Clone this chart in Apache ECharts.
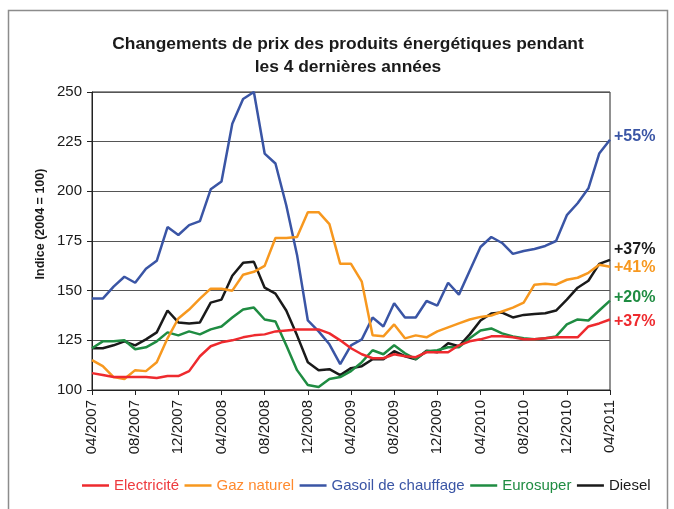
<!DOCTYPE html>
<html>
<head>
<meta charset="utf-8">
<script src="https://cdn.jsdelivr.net/npm/echarts@6/dist/echarts.min.js"></script>
<style>html,body{margin:0;padding:0;background:#fff}#c{width:674px;height:509px}</style>
</head>
<body>
<div id="c"></div>
<script>
const months = ["04/2007","05/2007","06/2007","07/2007","08/2007","09/2007","10/2007","11/2007","12/2007",
"01/2008","02/2008","03/2008","04/2008","05/2008","06/2008","07/2008","08/2008","09/2008","10/2008","11/2008","12/2008",
"01/2009","02/2009","03/2009","04/2009","05/2009","06/2009","07/2009","08/2009","09/2009","10/2009","11/2009","12/2009",
"01/2010","02/2010","03/2010","04/2010","05/2010","06/2010","07/2010","08/2010","09/2010","10/2010","11/2010","12/2010",
"01/2011","02/2011","03/2011","04/2011"];

const electricite = [108.5,107.5,106.5,106.5,106.5,106.5,106,107,107,109.5,117,122,124,125,126.5,127.5,128,129.5,130,130.5,130.5,130.5,128.5,125,121,118,116,116,118,117,116.5,119,119,119,122.5,124.5,125.5,127,127,126.5,125.5,125.5,126,126.5,126.5,126.5,132,133.5,135.5];
const gazNaturel = [115,112,106.5,105.5,110,109.5,114,126,136,140.5,146,151,151,150,158,159.5,162.5,176.5,176.5,177,189.5,189.5,183.5,163.5,163.5,154.5,127.5,127,133,126,127.5,126.5,129.5,131.5,133.5,135.5,136.8,137.5,139.5,141.5,144,153,153.5,153,155.5,156.5,159,163,162];
const gasoil = [146,146,152,157,154,161,165,182,178,183,185,201,205,234,246.5,250,219,214,193,168,135,129.5,123,113,122.5,125.5,136.5,132,143.7,136.5,136.5,144.8,142.5,154,148,160,172,177,174,168.5,170,171,172.5,175,188,194,201.5,219,226];
const eurosuper = [121,124.5,124.5,125,120.5,121.5,124.5,129,127.5,129.5,128,130.5,132,136.5,140.5,141.5,135.5,134.5,122.5,110,102.5,101.5,105.5,106.5,109.5,114,120,118,122.5,118.5,115.5,119.5,120,121.5,121.5,126,130,131,128.5,127,126,125.5,126,127,133,135.5,135,140,145];
const diesel = [121,121,122.5,124.5,122.5,125.5,129,140,134,133.5,134,144,145.5,157.5,164,164.5,151.5,148.5,140,127.5,114,110,110.5,107.5,111,112,115.5,115.5,119.5,117,115.5,119.8,119,123.5,122,128,135,138.5,139,136.5,137.8,138.3,138.6,140,145.5,151.5,155,163.5,165.5];

const seriesNames = ["Electricité","Gaz naturel","Gasoil de chauffage","Eurosuper","Diesel"];
const endLabels = ["+37%","+41%","+55%","+20%","+37%"];
const yTicks = [100,125,150,175,200,225,250];
const titleLines = ["Changements de prix des produits énergétiques pendant","les 4 dernières années"];
const yAxisTitle = "Indice (2004 = 100)";

const colors = ["#EE2A2E","#F7981F","#3A55A5","#1F8C42","#1A1A1A"];
const legendTextColors = ["#EE3A3E","#FF8A2E","#3A55A5","#1F8C42","#1A1A1A"];
const labelOffsets = [[0,2],[0,1],[0,-3],[0,-3],[0,-10]];
const dataSets = [electricite,gazNaturel,gasoil,eurosuper,diesel];

const chart = echarts.init(document.getElementById('c'), null, {renderer:'canvas'});
const font = "'Liberation Sans', Arial, sans-serif";

chart.setOption({
  animation:false,
  textStyle:{fontFamily:font},
  title:{
    text: titleLines.join("\n"),
    left:343, top:28, textAlign:'center',
    textStyle:{fontFamily:font,fontSize:17.4,fontWeight:'bold',color:'#1a1a1a',lineHeight:23}
  },
  graphic:[
    {type:'rect',shape:{x:8.5,y:10.5,width:659,height:530},style:{fill:'none',stroke:'#8c8c8c',lineWidth:1.5},silent:true},
    {type:'text',x:41,y:224,rotation:Math.PI/2,silent:true,
     style:{text:yAxisTitle,fill:'#1a1a1a',font:"bold 12.5px 'Liberation Sans', Arial, sans-serif",textAlign:'center',textVerticalAlign:'middle'}}
  ],
  legend:{
    bottom:16, left:82, padding:0,
    itemWidth:27, itemHeight:2.5, itemGap:5.5, icon:'rect',
    textStyle:{fontFamily:font,fontSize:15},
    data: seriesNames.map((n,i)=>({name:n,textStyle:{color:legendTextColors[i]}}))
  },
  grid:{left:92,right:64,top:92,bottom:119,show:true,borderColor:'#222',borderWidth:1,containLabel:false},
  xAxis:{
    type:'category', data:months, boundaryGap:false,
    axisLine:{lineStyle:{color:'#222',width:1}},
    axisTick:{show:true,interval:3,length:5,lineStyle:{color:'#222'}},
    axisLabel:{interval:3,rotate:90,fontSize:15,color:'#1a1a1a',fontFamily:font,margin:10}
  },
  yAxis:{
    type:'value', min:yTicks[0], max:yTicks[yTicks.length-1], interval:25,
    axisLine:{show:true,lineStyle:{color:'#222',width:1}},
    axisTick:{show:true,length:5,lineStyle:{color:'#222'}},
    axisLabel:{fontSize:15,color:'#1a1a1a',fontFamily:font,margin:10},
    splitLine:{lineStyle:{color:'#555',width:1}}
  },
  series: dataSets.map((d,i)=>({
    name:seriesNames[i], type:'line', data:d, showSymbol:false, symbol:'none',
    lineStyle:{color:colors[i],width:2.5}, itemStyle:{color:colors[i]},
    z: 10 - i,
    endLabel:{show:true, formatter:endLabels[i], color:colors[i], fontWeight:'bold', fontSize:16, fontFamily:font, distance:4, offset:labelOffsets[i]}
  }))
});
</script>
</body>
</html>
